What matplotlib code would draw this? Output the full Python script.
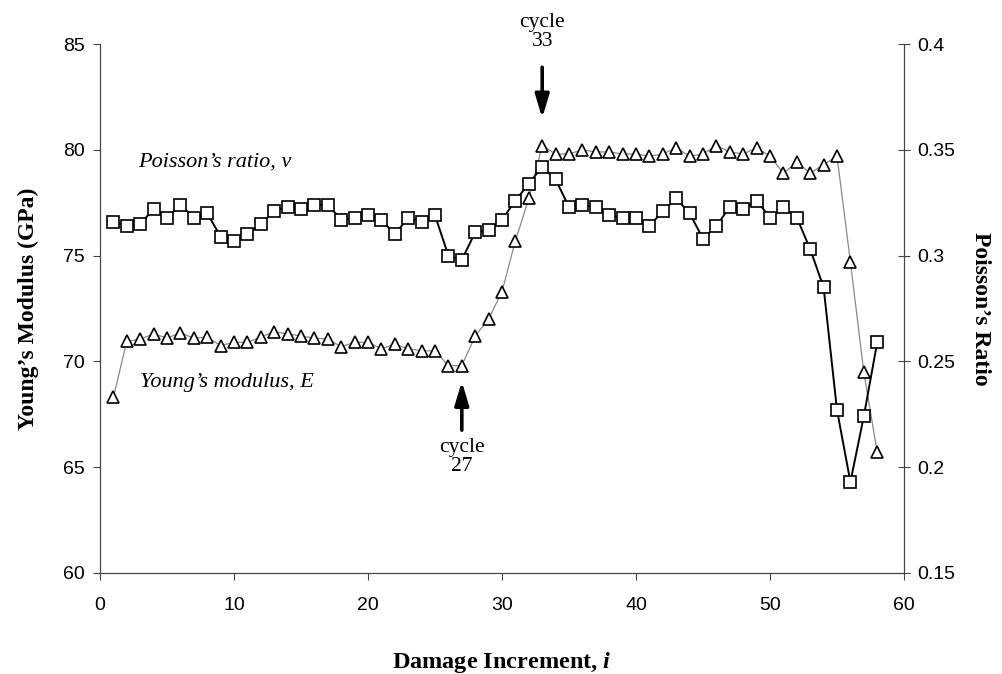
import numpy as np
import matplotlib
matplotlib.use("Agg")
import matplotlib.pyplot as plt

plt.rcParams.update({
    "font.family": ["Liberation Sans", "DejaVu Sans"],
    "font.size": 12,
    "mathtext.fontset": "custom",
    "mathtext.it": "Liberation Serif:italic:bold",
    "mathtext.rm": "Liberation Serif:bold",
})

SERIF = ["Liberation Serif", "DejaVu Serif"]

# damage increments and measured properties
increment = np.arange(1, 59)

youngs_modulus = [
    68.3, 70.95, 71.05, 71.3, 71.1, 71.35, 71.1, 71.15, 70.75, 70.9,
    70.9, 71.15, 71.4, 71.3, 71.2, 71.1, 71.05, 70.7, 70.9, 70.9,
    70.6, 70.8, 70.6, 70.5, 70.5, 69.8, 69.8, 71.2, 72.0, 73.3,
    75.7, 77.7, 80.2, 79.8, 79.8, 80.0, 79.9, 79.9, 79.8, 79.8,
    79.7, 79.8, 80.1, 79.7, 79.8, 80.2, 79.9, 79.8, 80.1, 79.7,
    78.9, 79.4, 78.9, 79.3, 79.7, 74.7, 69.5, 65.7,
]

poisson_ratio = [
    0.316, 0.314, 0.315, 0.322, 0.318, 0.324, 0.318, 0.320, 0.309, 0.307,
    0.310, 0.315, 0.321, 0.323, 0.322, 0.324, 0.324, 0.317, 0.318, 0.319,
    0.317, 0.310, 0.318, 0.316, 0.319, 0.300, 0.298, 0.311, 0.312, 0.317,
    0.326, 0.334, 0.342, 0.336, 0.323, 0.324, 0.323, 0.319, 0.318, 0.318,
    0.314, 0.321, 0.327, 0.320, 0.308, 0.314, 0.323, 0.322, 0.326, 0.318,
    0.323, 0.318, 0.303, 0.285, 0.227, 0.193, 0.224, 0.259,
]

x_ticks = [0, 10, 20, 30, 40, 50, 60]
e_ticks = [60, 65, 70, 75, 80, 85]
nu_ticks = [0.15, 0.2, 0.25, 0.3, 0.35, 0.4]
nu_tick_labels = ["0.15", "0.2", "0.25", "0.3", "0.35", "0.4"]

fig = plt.figure(figsize=(10.02, 6.74), dpi=100)
ax = fig.add_axes([0.0998, 0.1499, 0.8024, 0.7848])
ax2 = ax.twinx()

spine_col = "#444444"

ax.plot(increment, youngs_modulus, color="#8a8a8a", lw=0.9,
        marker="^", markersize=8.5, markerfacecolor="white",
        markeredgecolor="black", markeredgewidth=1.2)
ax2.plot(increment, poisson_ratio, color="black", lw=1.4,
         marker="s", markersize=8.5, markerfacecolor="white",
         markeredgecolor="black", markeredgewidth=1.2)

ax.set_xlim(0, 60)
ax.set_ylim(60, 85)
ax2.set_ylim(0.15, 0.4)
ax.set_xticks(x_ticks)
ax.set_yticks(e_ticks)
ax2.set_yticks(nu_ticks)
ax2.set_yticklabels(nu_tick_labels)

for a in (ax, ax2):
    a.spines["top"].set_visible(False)
    for s in ("left", "right", "bottom"):
        a.spines[s].set_color(spine_col)
        a.spines[s].set_linewidth(0.8)
ax.tick_params(axis="both", direction="out", length=5, width=0.8,
               color=spine_col, labelsize=14, pad=6)
ax.tick_params(axis="x", pad=12)
ax2.tick_params(axis="y", direction="inout", length=9, width=0.8,
                color=spine_col, labelsize=14, pad=5)

ax.set_ylabel("Young’s Modulus (GPa)", family=SERIF, fontweight="bold",
              fontsize=17, labelpad=17)
ax2.set_ylabel("Poisson’s Ratio", family=SERIF, fontweight="bold",
               fontsize=17, rotation=-90, labelpad=26)
ax.set_xlabel(r"Damage Increment, $i$", family=SERIF, fontweight="bold",
              fontsize=17.5, labelpad=26)

# series labels
ax.text(2.84, 79.42, "Poisson’s ratio, ν", family=SERIF, style="italic",
        fontsize=16, va="center", ha="left")
ax.text(3.0, 68.98, "Young’s modulus, E", family=SERIF, style="italic",
        fontsize=16, va="center", ha="left")

# cycle markers
arrow = dict(arrowstyle="-|>,head_length=1.0,head_width=0.3",
             lw=2.6, color="black", mutation_scale=14, shrinkA=0, shrinkB=0)
ax.annotate("", xy=(33, 81.5), xytext=(33, 83.9), arrowprops=arrow,
            annotation_clip=False)
ax.text(33, 84.65, "cycle\n33", family=SERIF, fontsize=15.5, ha="center",
        va="bottom", linespacing=1.05, clip_on=False)
ax.annotate("", xy=(27, 69.05), xytext=(27, 66.75), arrowprops=arrow)
ax.text(27, 66.4, "cycle\n27", family=SERIF, fontsize=15.5, ha="center",
        va="top", linespacing=1.05)

fig.savefig("out.png", dpi=100)
